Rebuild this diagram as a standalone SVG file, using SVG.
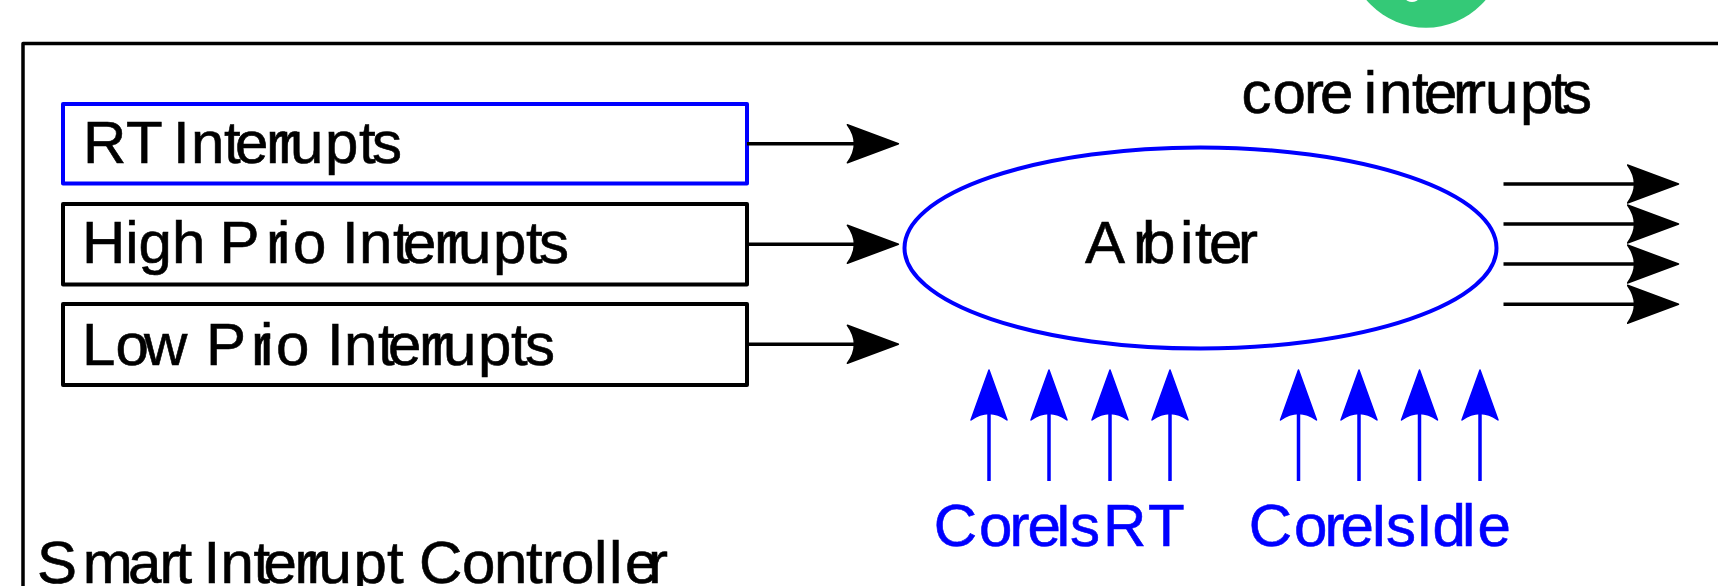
<svg xmlns="http://www.w3.org/2000/svg" width="1718" height="586" viewBox="0 0 1718 586">
  <style>
    text { font-family: "Liberation Sans", Arial, sans-serif; font-size: 60px; fill: #000; stroke: #000; stroke-width: 0.6; }
    text.blue { fill: #0000ff; stroke: #0000ff; }
    .box { fill: #fff; stroke: #000; stroke-width: 4; stroke-linejoin: round; }
    .box.blue { stroke: #0000ff; }
    .wire { fill: none; stroke: #000; stroke-width: 3.5; marker-end: url(#headBlack); }
    .wire.blue { stroke: #0000ff; marker-end: url(#headBlue); }
  </style>
  <defs>
    <marker id="headBlack" markerUnits="userSpaceOnUse" markerWidth="54" markerHeight="42" viewBox="-1 -2 54 42" refX="7" refY="19" orient="auto">
      <path d="M0 0 L51 19 L0 38 Q14 19 0 0 Z" fill="#000" stroke="#000" stroke-width="1.5" stroke-linejoin="round"/>
    </marker>
    <marker id="headBlue" markerUnits="userSpaceOnUse" markerWidth="54" markerHeight="42" viewBox="-1 -2 54 42" refX="7" refY="19" orient="auto">
      <path d="M1 1 L51 19 L1 37 Q14 19 1 1 Z" fill="#0000ff" stroke="#0000ff" stroke-width="1.5" stroke-linejoin="round"/>
    </marker>
  </defs>
  <rect width="1718" height="586" fill="#fff"/>
  <g id="badge">
    <circle cx="1426" cy="-50.3" r="78" fill="#34c977"/>
    <ellipse cx="1412" cy="-1" rx="6" ry="3" fill="#fff"/>
  </g>
  <g id="controller">
    <rect x="23" y="43.5" width="1760" height="600" fill="none" stroke="#000" stroke-width="3.5" stroke-linejoin="round"/>
    <text x="37 82.7 128 159.5 175.5 190 203.5 220.5 253.5 263.5 294.5 306.5 318.5 353.5 387 405 419 462 494 526 542 561 594 609 625 648" y="583">Smart Interrupt Controller</text>
  </g>
  <g id="rt-interrupts">
    <rect class="box blue" x="63" y="104" width="684" height="79.5"/>
    <text x="83 126 165 173 191 224 235 266 278 290 325 359 372" y="162.5">RT Interrupts</text>
  </g>
  <g id="high-prio-interrupts">
    <rect class="box" x="63" y="204" width="684" height="80.5"/>
    <text x="82 125.3 138.6 172 205 219.5 266 277 293 325 342 359 393 403 434 446 458 493 526 539" y="263.3">High Prio Interrupts</text>
  </g>
  <g id="low-prio-interrupts">
    <rect class="box" x="63" y="304" width="684" height="81"/>
    <text x="82 115.4 144 192 206 251 260 276 313 327 344 378 388 419 431 443 478 511 525" y="365">Low Prio Interrupts</text>
  </g>
  <g id="arbiter">
    <ellipse cx="1200.5" cy="248" rx="296" ry="100.5" fill="#fff" stroke="#0000ff" stroke-width="4"/>
    <text x="1085 1133 1142 1180 1195 1209 1238" y="263">Arbiter</text>
  </g>
  <g id="connectors">
    <line class="wire" x1="747" y1="143.7" x2="854.4" y2="143.7"/>
    <line class="wire" x1="747" y1="244.3" x2="854.4" y2="244.3"/>
    <line class="wire" x1="747" y1="344.3" x2="854.4" y2="344.3"/>
    <line class="wire" x1="1503.5" y1="184" x2="1634.5" y2="184"/>
    <line class="wire" x1="1503.5" y1="224" x2="1634.5" y2="224"/>
    <line class="wire" x1="1503.5" y1="264" x2="1634.5" y2="264"/>
    <line class="wire" x1="1503.5" y1="304.3" x2="1634.5" y2="304.3"/>
    <line class="wire blue" x1="989" y1="481" x2="989" y2="414"/>
    <line class="wire blue" x1="1049" y1="481" x2="1049" y2="414"/>
    <line class="wire blue" x1="1110" y1="481" x2="1110" y2="414"/>
    <line class="wire blue" x1="1170" y1="481" x2="1170" y2="414"/>
    <line class="wire blue" x1="1298.5" y1="481" x2="1298.5" y2="414"/>
    <line class="wire blue" x1="1359" y1="481" x2="1359" y2="414"/>
    <line class="wire blue" x1="1419.5" y1="481" x2="1419.5" y2="414"/>
    <line class="wire blue" x1="1480" y1="481" x2="1480" y2="414"/>
  </g>
  <g id="core-interrupts">
    <text x="1241.6 1272.5 1304 1320 1350 1363.7 1379 1412 1424 1453 1466 1485 1520 1551 1562" y="113">core interrupts</text>
  </g>
  <g id="core-is-rt">
    <text class="blue" x="933.7 979 1009.4 1027.6 1055 1070 1103 1148" y="546">CoreIsRT</text>
  </g>
  <g id="core-is-idle">
    <text class="blue" x="1248.7 1294 1324.4 1340.6 1370.5 1386 1416 1432.5 1462 1477.6" y="546">CoreIsIdle</text>
  </g>
</svg>
